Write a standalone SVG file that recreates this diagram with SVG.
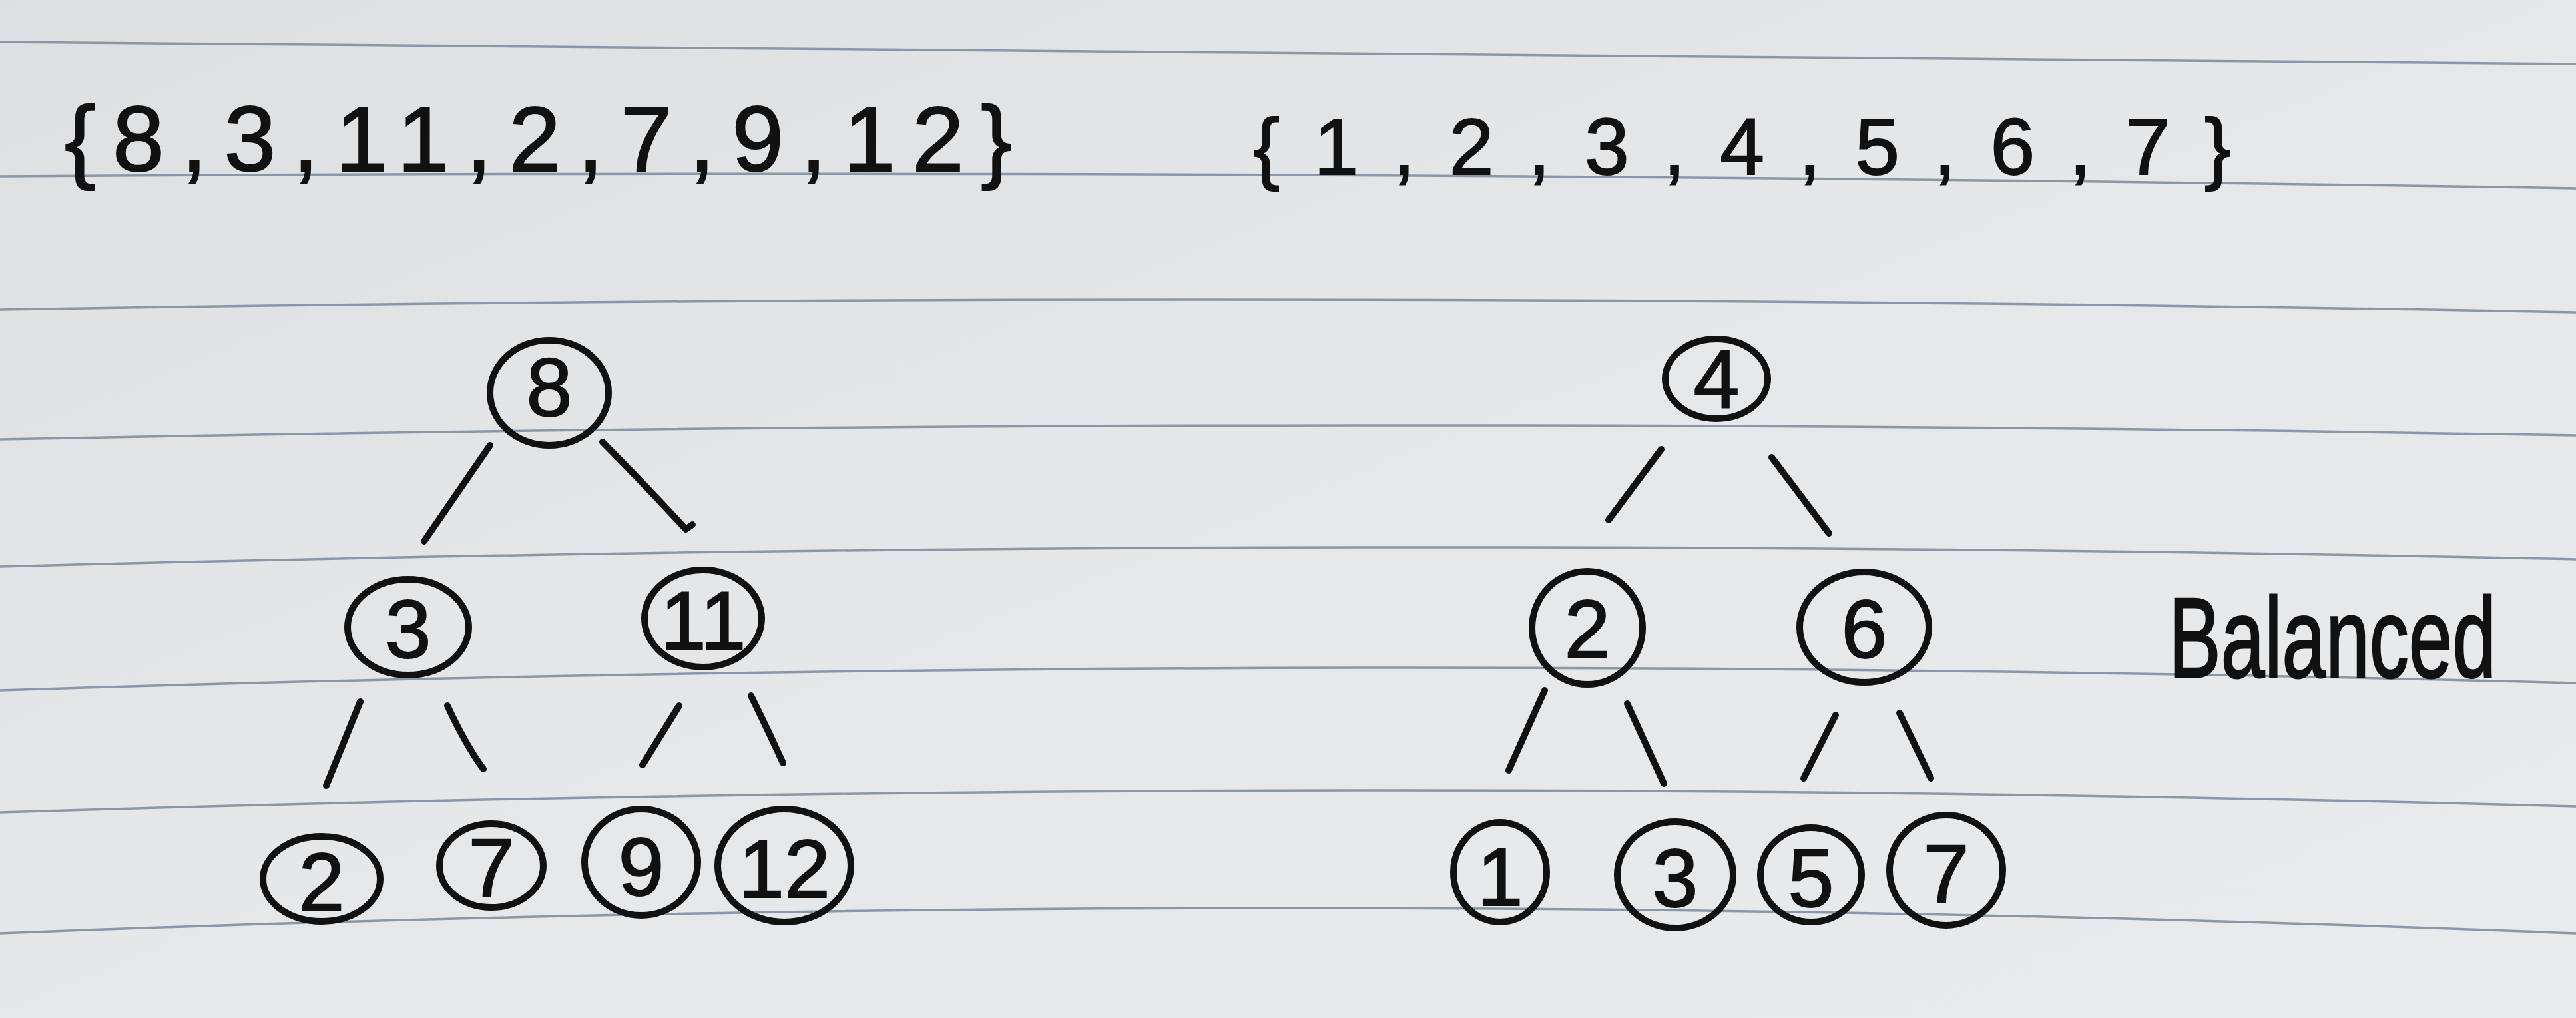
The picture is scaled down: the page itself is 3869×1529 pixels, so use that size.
<svg xmlns="http://www.w3.org/2000/svg" width="3869" height="1529" viewBox="0 0 3869 1529">
<defs>
<linearGradient id="paper" x1="0" y1="0" x2="1" y2="1">
<stop offset="0" stop-color="#dedfe1"/>
<stop offset="0.5" stop-color="#e6e7e9"/>
<stop offset="1" stop-color="#e9eaec"/>
</linearGradient>
<style>
.rule{fill:none;stroke:#8d97a3;stroke-width:3.5}
.ink{fill:none;stroke:#111;stroke-width:10;stroke-linecap:round;stroke-linejoin:round}
.txt{font-family:"Liberation Sans","DejaVu Sans",sans-serif;fill:#111;stroke:#111;stroke-width:2}
.num{font-family:"Liberation Sans","DejaVu Sans",sans-serif;font-size:124px;fill:#111;stroke:#111;stroke-width:2;text-anchor:middle}
</style>
</defs>
<rect x="0" y="0" width="3869" height="1529" fill="url(#paper)"/>
<g id="ruled-lines">
<path class="rule" d="M0 63 Q1935 86 3869 96"/>
<path class="rule" d="M0 265 Q1935 252 3869 283"/>
<path class="rule" d="M0 465 Q1935 433 3869 469"/>
<path class="rule" d="M0 660 Q1935 621 3869 654"/>
<path class="rule" d="M0 851 Q1935 799 3869 840"/>
<path class="rule" d="M0 1037 Q1935 975 3869 1026"/>
<path class="rule" d="M0 1220 Q1935 1159 3869 1211"/>
<path class="rule" d="M0 1402 Q1935 1326 3869 1402"/>
</g>
<g id="set-left"><text class="txt" x="97" y="257" font-size="140" textLength="1423" lengthAdjust="spacing">{8,3,11,2,7,9,12}</text></g>
<g id="set-right"><text class="txt" x="1882" y="262" font-size="120" textLength="1469" lengthAdjust="spacing">{1,2,3,4,5,6,7}</text></g>
<g id="label-balanced"><text class="txt" transform="translate(3257 1017) scale(1 1.45)" x="0" y="0" font-size="118">Balanced</text></g>
<g id="connectors">
<path class="ink" d="M736 669 L637 813"/>
<path class="ink" d="M905 664 Q980 740 1030 795 L1040 788"/>
<path class="ink" d="M541 1054 L490 1180"/>
<path class="ink" d="M672 1060 Q700 1120 726 1155"/>
<path class="ink" d="M1020 1060 L965 1149"/>
<path class="ink" d="M1128 1045 Q1155 1100 1176 1146"/>
<path class="ink" d="M2495 675 L2416 781"/>
<path class="ink" d="M2661 687 L2747 801"/>
<path class="ink" d="M2320 1037 L2266 1157"/>
<path class="ink" d="M2444 1057 L2499 1177"/>
<path class="ink" d="M2757 1074 L2709 1169"/>
<path class="ink" d="M2853 1071 L2900 1169"/>
</g>
<g id="node-8"><ellipse class="ink" cx="825" cy="590" rx="89" ry="79"/><text class="num" x="825" y="625">8</text></g>
<g id="node-3"><ellipse class="ink" cx="613" cy="942" rx="91" ry="72"/><text class="num" x="613" y="988">3</text></g>
<g id="node-11"><ellipse class="ink" cx="1056" cy="929" rx="88" ry="73"/><text class="num" x="1056" y="975">11</text></g>
<g id="node-2a"><ellipse class="ink" cx="483" cy="1320" rx="88" ry="64"/><text class="num" x="483" y="1368">2</text></g>
<g id="node-7a"><ellipse class="ink" cx="738" cy="1300" rx="78" ry="63"/><text class="num" x="738" y="1346">7</text></g>
<g id="node-9"><ellipse class="ink" cx="963" cy="1295" rx="85" ry="80"/><text class="num" x="963" y="1345">9</text></g>
<g id="node-12"><ellipse class="ink" cx="1178" cy="1300" rx="100" ry="85"/><text class="num" x="1178" y="1348">12</text></g>
<g id="node-4"><ellipse class="ink" cx="2578" cy="569" rx="77" ry="60"/><text class="num" x="2578" y="612">4</text></g>
<g id="node-2b"><ellipse class="ink" cx="2384" cy="943" rx="83" ry="85"/><text class="num" x="2384" y="988">2</text></g>
<g id="node-6"><ellipse class="ink" cx="2800" cy="942" rx="97" ry="83"/><text class="num" x="2800" y="988">6</text></g>
<g id="node-1"><ellipse class="ink" cx="2253" cy="1310" rx="70" ry="75"/><text class="num" x="2253" y="1360">1</text></g>
<g id="node-3b"><ellipse class="ink" cx="2516" cy="1314" rx="87" ry="80"/><text class="num" x="2516" y="1362">3</text></g>
<g id="node-5"><ellipse class="ink" cx="2720" cy="1314" rx="76" ry="71"/><text class="num" x="2720" y="1362">5</text></g>
<g id="node-7b"><ellipse class="ink" cx="2923" cy="1307" rx="85" ry="83"/><text class="num" x="2923" y="1355">7</text></g>
</svg>
